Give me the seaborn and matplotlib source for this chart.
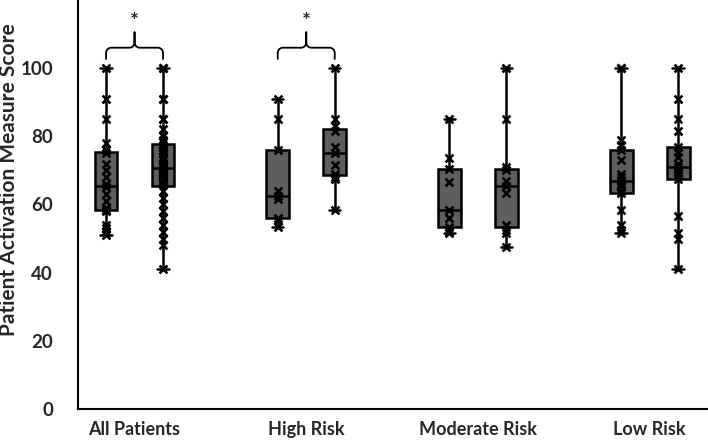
import numpy as np
import pandas as pd
import matplotlib.pyplot as plt
import seaborn as sns

groups = ['All Patients', 'High Risk', 'Moderate Risk', 'Low Risk']
series = ['First', 'Second']

# scores, one list per box
all_first = [51, 52, 53, 54, 58, 58.5, 59, 61, 63, 65, 66, 68, 70, 72, 75, 76, 78, 85, 91, 100]
all_second = [41, 48, 50, 52, 54, 56, 58, 60, 62, 64,
              66, 66.5, 67, 67.5, 68, 68.5, 69, 69.5, 70, 70.5,
              71, 71.5, 72, 73, 74, 75, 76, 76.5, 77, 77.5,
              78.5, 79, 80, 82, 85, 85, 91, 91, 100, 100]
high_first = [53.5, 55.5, 56, 61.5, 62.5, 64, 76, 85, 91]
high_second = [58.5, 67.5, 68, 69, 71.5, 75, 77, 81.5, 83, 85, 100]
mod_first = [51.5, 52, 53.5, 56, 58.5, 66.5, 70.5, 73.5, 85]
mod_second = [47.5, 51.5, 52.5, 54, 63.5, 65.5, 67, 70, 71, 85, 100]
low_first = [51.5, 52.5, 54, 58.5, 63.5, 64, 65.5, 66, 67, 68, 69, 73, 76, 77.5, 79, 100, 100]
low_second = [41, 50, 51.5, 56.5, 67.5, 68.5, 69.5, 70, 71, 72, 74, 75.5, 77, 81.5, 85, 91, 100]

scores = {
    ('All Patients', 'First'): all_first, ('All Patients', 'Second'): all_second,
    ('High Risk', 'First'): high_first, ('High Risk', 'Second'): high_second,
    ('Moderate Risk', 'First'): mod_first, ('Moderate Risk', 'Second'): mod_second,
    ('Low Risk', 'First'): low_first, ('Low Risk', 'Second'): low_second,
}
significant = ['All Patients', 'High Risk']

rows = []
for (g, s), vals in scores.items():
    for v in vals:
        rows.append({'group': g, 'series': s, 'score': v})
df = pd.DataFrame(rows)

box_width = 0.664
df['xpos'] = df['group'].map(groups.index) + (df['series'].map(series.index) - 0.5) * box_width / 2

sns.set_style('white')
plt.rcParams['font.family'] = ['Lato', 'DejaVu Sans']
plt.rcParams['font.weight'] = 'bold'

fig = plt.figure(figsize=(7.08, 4.44), dpi=100)
ax = fig.add_axes([0.11, 0.079, 0.89, 0.921])

sns.boxplot(data=df, x='group', y='score', hue='series', order=groups, hue_order=series,
            width=box_width, gap=0.6, whis=(0, 100), palette=['#5e5e5e', '#5e5e5e'],
            saturation=1, linecolor='black', linewidth=1.8, legend=False, ax=ax)
sns.scatterplot(data=df, x='xpos', y='score', marker='x', color='black', s=32,
                linewidth=1.9, legend=False, ax=ax, zorder=4)

# significance braces
def brace(ax, xc):
    x0, x1 = xc - box_width / 4, xc + box_width / 4
    xm = xc
    y_end, y_line, y_tip = 102.5, 106, 110.5
    rx, ry = 0.03, 1.6
    t = np.linspace(0, np.pi / 2, 20)
    left = [(x0, y_end)]
    left += [(x0 + rx - rx * np.cos(a), y_line - ry + ry * np.sin(a)) for a in t]
    left += [(xm - rx + rx * np.sin(a), y_line + ry - ry * np.cos(a)) for a in t]
    left += [(xm, y_tip)]
    right = [(2 * xm - x, y) for x, y in left[::-1]]
    pts = np.array(left + right)
    ax.plot(pts[:, 0], pts[:, 1], color='black', lw=1.3, solid_capstyle='butt')
    ax.text(xm, 110.5, '*', ha='center', va='bottom', fontsize=15)

for g in significant:
    brace(ax, groups.index(g))

ax.set_xlim(-0.33, 3.34)
ax.set_ylim(0, 120)
ax.set_yticks(range(0, 101, 20))
ax.set_xticks(range(len(groups)))
ax.set_xticklabels(groups)
ax.set_xlabel('')
ax.set_ylabel('Patient Activation Measure Score', fontsize=15, fontweight='bold')
ax.yaxis.set_label_coords(-0.094, 0.56)
ax.tick_params(axis='y', length=0, pad=18, labelsize=13.5)
ax.tick_params(axis='x', length=0, pad=9, labelsize=13)
for side in ['top', 'right']:
    ax.spines[side].set_visible(False)
for side in ['left', 'bottom']:
    ax.spines[side].set_color('black')
    ax.spines[side].set_linewidth(1.5)

fig.savefig('out.png', dpi=100)
